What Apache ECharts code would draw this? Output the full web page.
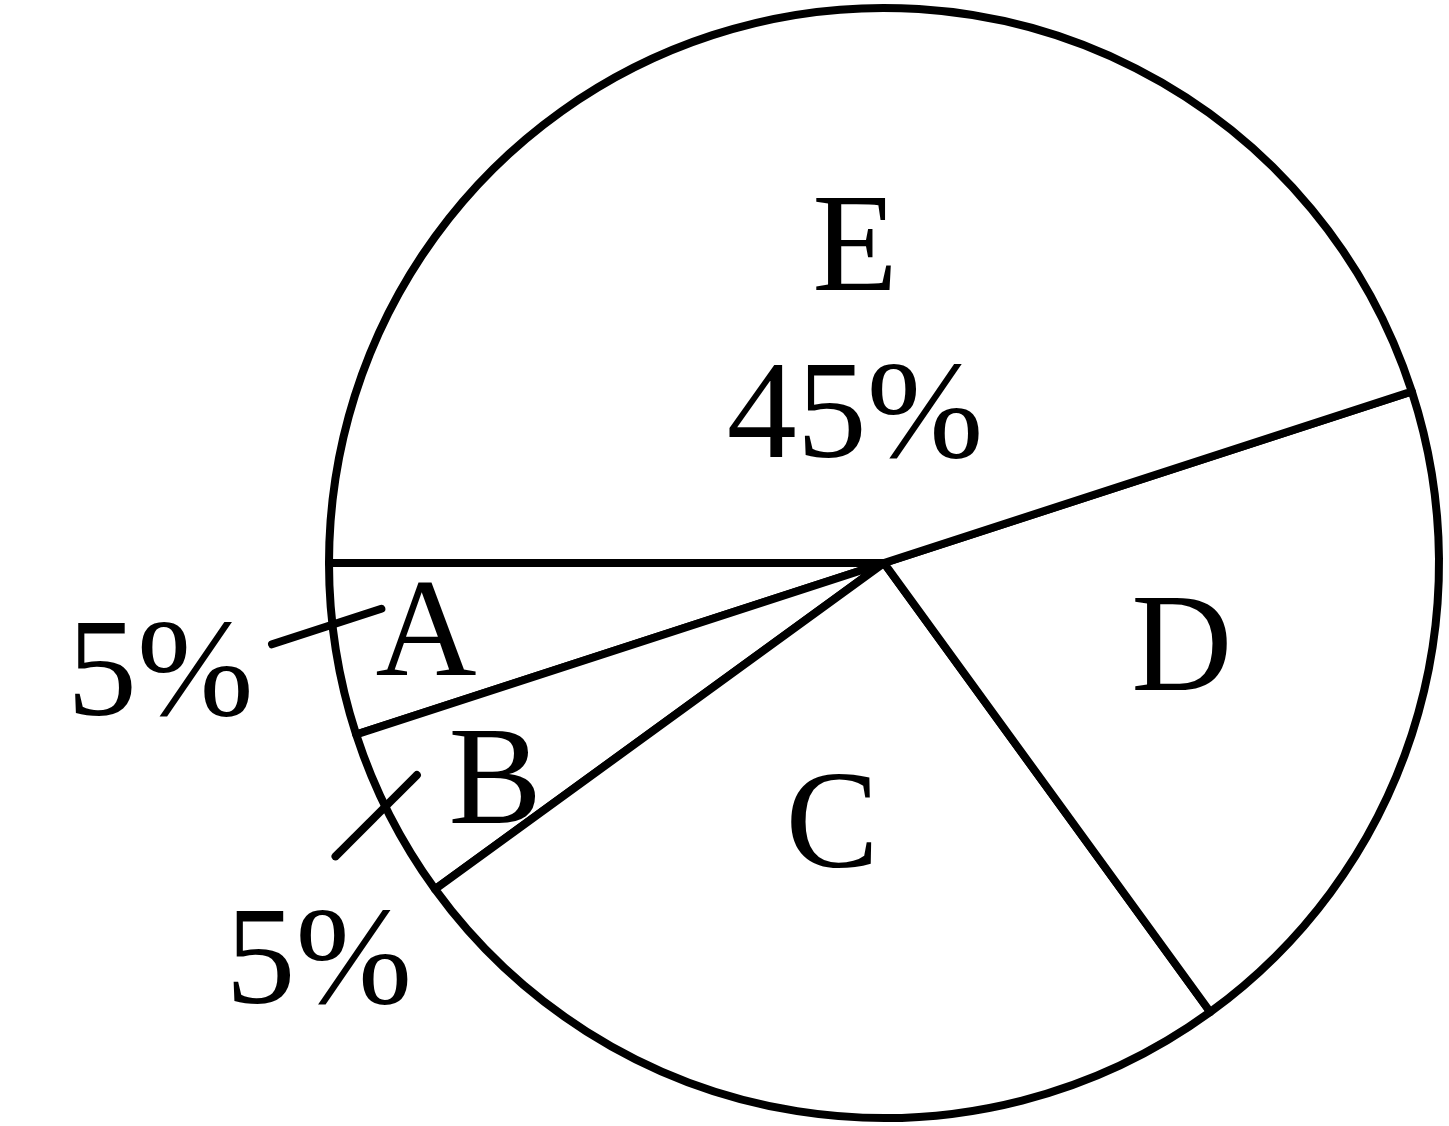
<!DOCTYPE html>
<html><head><meta charset="utf-8">
<script src="https://cdn.jsdelivr.net/npm/echarts@6/dist/echarts.min.js"></script>
<style>html,body{margin:0;padding:0;background:#fff}#c{width:1449px;height:1126px}</style>
</head><body><div id="c"></div>
<script>
// ---- data ----
const categories = ['A', 'B', 'C', 'D', 'E'];
const values = [5, 5, 25, 20, 45];
const outsidePctLabels = ['A', 'B'];   // slices whose percentage sits outside with a leader line
const insidePctLabels = ['E'];         // slices whose percentage sits inside under the letter

// ---- layout tweaks (not data) ----
const letterShift = { A: [-181, 31], B: [-139, 96], C: [-8, -10], D: [31, 4], E: [15, 51] };
const outerShift = { A: [-5, 40], B: [100, 141] };
const leaderTilt = { A: -11, B: -20 };        // degrees the leader line is turned from radial
const leaderNudge = { A: [1, -5], B: [2, 15] }; // small pixel nudge of the leader line
const FONT = "'Liberation Serif', 'Times New Roman', serif";
const CENTER = [884, 563];
const R = 555;
const LW = 8;

const chart = echarts.init(document.getElementById('c'), null, { renderer: 'canvas' });

const mainData = categories.map((c, i) => ({ name: c, value: values[i] }));
const outerData = categories.map((c, i) => ({
  name: c, value: values[i],
  label: { show: outsidePctLabels.includes(c) },
  labelLine: { show: outsidePctLabels.includes(c) }
}));

function tiltLine(pts, deg, nudge) {
  const s = pts[0], e = pts[pts.length - 1];
  const mx = (s[0] + e[0]) / 2 + nudge[0], my = (s[1] + e[1]) / 2 + nudge[1];
  const len = Math.hypot(e[0] - s[0], e[1] - s[1]) / 2;
  const th = Math.atan2(e[1] - s[1], e[0] - s[0]) + deg * Math.PI / 180;
  const ux = Math.cos(th) * len, uy = Math.sin(th) * len;
  return [[mx - ux, my - uy], [mx, my], [mx + ux, my + uy]];
}

chart.setOption({
  backgroundColor: '#fff',
  animation: false,
  series: [
    {
      type: 'pie',
      z: 2,
      center: CENTER,
      radius: [0, R],
      startAngle: 180,
      clockwise: false,
      silent: true,
      avoidLabelOverlap: false,
      itemStyle: { color: '#fff', borderColor: '#000', borderWidth: LW, borderJoin: 'round' },
      label: {
        show: true,
        position: 'inside',
        color: '#000',
        fontFamily: FONT,
        fontSize: 140,
        lineHeight: 167,
        formatter: p => insidePctLabels.includes(p.name) ? p.name + '\n' + Math.round(p.percent) + '%' : p.name
      },
      labelLayout: p => {
        const s = letterShift[categories[p.dataIndex]] || [0, 0];
        return { dx: s[0], dy: s[1] };
      },
      labelLine: { show: false },
      emphasis: { disabled: true },
      data: mainData
    },
    {
      type: 'pie',
      z: 5,
      center: CENTER,
      radius: [0, 505],
      startAngle: 178,
      clockwise: false,
      silent: true,
      avoidLabelOverlap: false,
      itemStyle: { color: 'rgba(0,0,0,0)', borderWidth: 0 },
      label: {
        position: 'outside',
        color: '#000',
        fontFamily: FONT,
        fontSize: 140,
        distanceToLabelLine: 10,
        formatter: p => Math.round(p.percent) + '%'
      },
      labelLine: { length: 115, length2: 0, smooth: false, lineStyle: { color: '#000', width: LW, cap: 'round' } },
      labelLayout: p => {
        const c = categories[p.dataIndex];
        const s = outerShift[c];
        if (!s || !p.labelLinePoints) return {};
        return { dx: s[0], dy: s[1], labelLinePoints: tiltLine(p.labelLinePoints, leaderTilt[c] || 0, leaderNudge[c] || [0, 0]) };
      },
      emphasis: { disabled: true },
      data: outerData
    }
  ]
});
</script>
</body></html>
